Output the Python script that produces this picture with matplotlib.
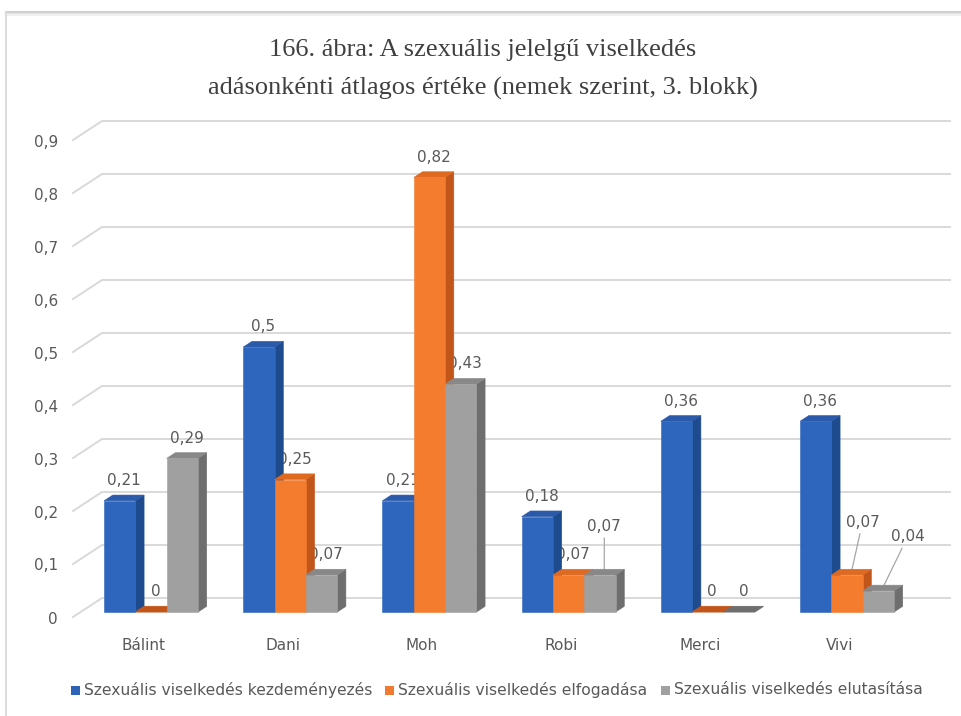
import matplotlib
matplotlib.use("Agg")
import matplotlib.pyplot as plt
from matplotlib.patches import Polygon, Rectangle
from matplotlib.lines import Line2D

# ---- data -------------------------------------------------------------
categories = ["Bálint", "Dani", "Moh", "Robi", "Merci", "Vivi"]
series_names = [
    "Szexuális viselkedés kezdeményezés",
    "Szexuális viselkedés elfogadása",
    "Szexuális viselkedés elutasítása",
]
kezdemenyezes = [0.21, 0.50, 0.21, 0.18, 0.36, 0.36]
elfogadas = [0.00, 0.25, 0.82, 0.07, 0.00, 0.07]
elutasitas = [0.29, 0.07, 0.43, 0.07, 0.00, 0.04]
y_ticks = [0.0, 0.1, 0.2, 0.3, 0.4, 0.5, 0.6, 0.7, 0.8, 0.9]
title_lines = [
    "166. ábra: A szexuális jelelgű viselkedés",
    "adásonkénti átlagos értéke (nemek szerint, 3. blokk)",
]

series = [kezdemenyezes, elfogadas, elutasitas]

# ---- styling ----------------------------------------------------------
face_colors = [
    # front, side, top
    ("#2f66bd", "#1e4a8e", "#2a5aa9"),
    ("#f47c2f", "#c2561a", "#de6a22"),
    ("#a0a0a0", "#6e6e6e", "#888888"),
]
legend_colors = ["#2e64b8", "#ef7a30", "#a0a0a0"]
text_color = "#595959"
grid_color = "#d9d9d9"
sans = "DejaVu Sans"
fs = 11

W, H = 961, 716
PX = 139.2          # pixels per category step
PY = 530.0          # pixels per value unit
X0, Y0 = 143.5, 617.0

fig = plt.figure(figsize=(W / 100, H / 100), dpi=100)
fig.patch.set_facecolor("white")
ax = fig.add_axes([0, 0, 1, 1])
ax.set_xlim(-X0 / PX, (W - X0) / PX)
ax.set_ylim(-(H - Y0) / PY, Y0 / PY)
ax.axis("off")

# oblique depth projection
DX = 29.0 / PX
DY = 19.0 / PY


def proj(x, v, z):
    return (x + DX * z, v + DY * z)


# ---- walls / gridlines ------------------------------------------------
x_left = (73 - X0) / PX
x_right = (950 - X0) / PX - DX
for t in y_ticks:
    pts = [proj(x_left, t, 0), proj(x_left, t, 1), proj(x_right, t, 1)]
    ax.add_line(Line2D([p[0] for p in pts], [p[1] for p in pts],
                       color=grid_color, lw=1.4, zorder=1,
                       solid_joinstyle="miter"))
    label = "0" if t == 0 else f"{t:.1f}".replace(".", ",")
    ax.text((58 - X0) / PX, t - 2 / PY, label, ha="right", va="center",
            fontsize=fs, color=text_color, family=sans, zorder=2)

# ---- bars ---------------------------------------------------------------
BW = 31.3 / PX
ZF, ZB = 0.26, 0.56


def fmt(v):
    return f"{v:g}".replace(".", ",")


# label offsets (points) for labels that need a leader line
leader = {(3, 2): (0, 33), (5, 1): (8, 36), (5, 2): (18, 37)}

zo = 3
for i in range(len(categories)):
    for k, vals in enumerate(series):
        v = vals[i]
        xl = i - 1.5 * BW + k * BW
        xr = xl + BW
        front, side, top = face_colors[k]
        top_face = [proj(xl, v, ZF), proj(xr, v, ZF), proj(xr, v, ZB), proj(xl, v, ZB)]
        if v > 0:
            ax.add_patch(Polygon([proj(xr, 0, ZF), proj(xr, 0, ZB), proj(xr, v, ZB),
                                  proj(xr, v, ZF)], closed=True, fc=side, ec=side,
                                 lw=0.4, zorder=zo))
            ax.add_patch(Polygon(top_face, closed=True, fc=top, ec=top, lw=0.4,
                                 zorder=zo + 0.1))
            ax.add_patch(Polygon([proj(xl, 0, ZF), proj(xr, 0, ZF), proj(xr, v, ZF),
                                  proj(xl, v, ZF)], closed=True, fc=front, ec=front,
                                 lw=0.4, zorder=zo + 0.2))
        else:
            ax.add_patch(Polygon(top_face, closed=True, fc=side, ec=side, lw=0.6,
                                 zorder=zo))
        zo += 1

        # value label
        cx, cy = proj((xl + xr) / 2, v, (ZF + ZB) / 2)
        if (i, k) in leader:
            ax.annotate(fmt(v), xy=(cx, cy), xytext=leader[(i, k)],
                        textcoords="offset points", ha="center", va="center",
                        fontsize=fs, color=text_color, family=sans, zorder=2,
                        arrowprops=dict(arrowstyle="-", color="#a6a6a6", lw=0.9,
                                        shrinkA=1, shrinkB=1))
        else:
            ax.annotate(fmt(v), xy=(cx, cy), xytext=(0, 12.5),
                        textcoords="offset points", ha="center", va="center",
                        fontsize=fs, color=text_color, family=sans, zorder=2)

# ---- category labels ---------------------------------------------------
for i, name in enumerate(categories):
    ax.text(i, (Y0 - 646) / PY, name, ha="center", va="center",
            fontsize=fs, color=text_color, family=sans)

# ---- legend (laid out left to right from measured text widths) ----------
fig.canvas.draw()
renderer = fig.canvas.get_renderer()
legend_y = (Y0 - 690) / PY
sq = 9.0
cursor = 71.0
for k, name in enumerate(series_names):
    ax.add_patch(Rectangle(((cursor - X0) / PX, legend_y - sq / 2 / PY), sq / PX,
                           sq / PY, fc=legend_colors[k], ec="none"))
    txt = ax.text((cursor + sq + 4 - X0) / PX, legend_y, name, ha="left",
                  va="center", fontsize=11.2, color=text_color, family=sans)
    width = txt.get_window_extent(renderer).width
    cursor += sq + 4 + width + 13

# ---- title ---------------------------------------------------------------
for j, line in enumerate(title_lines):
    fig.text(483 / W, 1 - (50 + 38 * j) / H, line, ha="center", va="center",
             fontsize=19, color="#404040", family="Liberation Serif")

# ---- frame -------------------------------------------------------------
for off, col in [(0, "#cfcfcf"), (1.5, "#e4e4e4"), (3, "#f0f0f0")]:
    fig.add_artist(Line2D([6 / W, 1], [1 - (12 + off) / H] * 2,
                          transform=fig.transFigure, color=col, lw=1.5))
fig.add_artist(Line2D([6 / W] * 2, [0, 1 - 12 / H], transform=fig.transFigure,
                      color="#dcdcdc", lw=1.5))

fig.savefig("out.png", dpi=100, facecolor="white")
